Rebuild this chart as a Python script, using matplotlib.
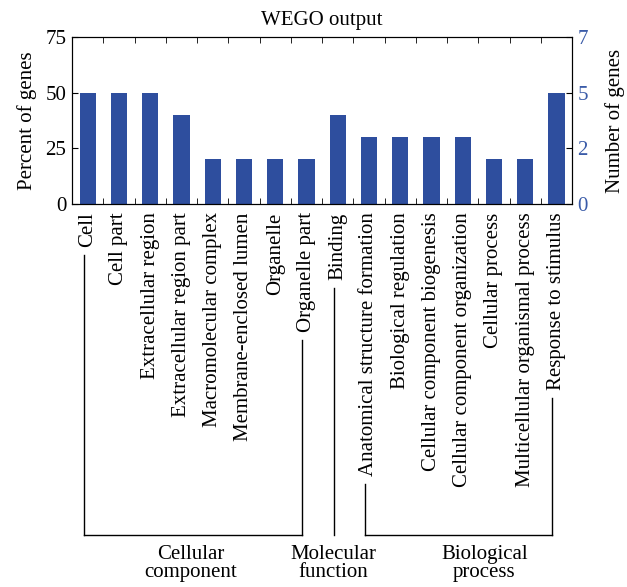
import matplotlib
matplotlib.use("Agg")
import matplotlib.pyplot as plt
from matplotlib.lines import Line2D

# данные с картинки
categories = ["Cell", "Cell part", "Extracellular region", "Extracellular region part",
              "Macromolecular complex", "Membrane-enclosed lumen", "Organelle", "Organelle part",
              "Binding", "Anatomical structure formation", "Biological regulation",
              "Cellular component biogenesis", "Cellular component organization",
              "Cellular process", "Multicellular organismal process", "Response to stimulus"]
percent = [50, 50, 50, 40, 20, 20, 20, 20, 40, 30, 30, 30, 30, 20, 20, 50]
left_ticks = [0, 25, 50, 75]
right_labels = ["0", "2", "5", "7"]
groups = [("Cellular\ncomponent", 0, 7, 3.3),
          ("Molecular\nfunction", 8, 8, 7.85),
          ("Biological\nprocess", 9, 15, 12.7)]

bar_color = "#2E4E9E"
blue_txt = "#3A5BA8"

plt.rcParams['font.family'] = ['Liberation Serif', 'DejaVu Serif']
plt.rcParams['font.size'] = 15

W, H = 627, 587
fig = plt.figure(figsize=(W / 100, H / 100), dpi=100)
ax = fig.add_axes([72 / W, 1 - 204 / H, 500 / W, 167 / H])

x = list(range(len(categories)))
ax.bar(x, percent, width=0.52, color=bar_color)
ax.set_xlim(-0.5, len(categories) - 0.5)
ax.set_ylim(0, 75)
ax.set_yticks(left_ticks)
ax.set_xticks(x)
ax.set_xticklabels(categories, rotation=90, va="top", ha="center")
ax.set_xticks([i + 0.5 for i in x[:-1]], minor=True)
ax.tick_params(axis="x", which="major", length=0, pad=6)
ax.tick_params(axis="x", which="minor", direction="in", top=True, bottom=True, length=4)
ax.tick_params(axis="y", direction="in", length=4, pad=4)
ax.set_ylabel("Percent of genes", labelpad=6)
ax.set_title("WEGO output", fontsize=15, pad=9)

ax2 = ax.twinx()
ax2.set_ylim(0, 75)
ax2.set_yticks(left_ticks)
ax2.set_yticklabels(right_labels, color=blue_txt)
ax2.tick_params(axis="y", direction="in", length=4, pad=4)
ax2.set_ylabel("Number of genes", labelpad=12)

# скобки групп под подписями
fig.canvas.draw()
renderer = fig.canvas.get_renderer()
labels = ax.get_xticklabels()
bracket_y = 52  # пиксели снизу

def xpix(i):
    return ax.transData.transform((i, 0))[0]

def vline(i):
    bb = labels[i].get_window_extent(renderer)
    top = bb.y0 - 8
    xp = xpix(i) - 4
    fig.add_artist(Line2D([xp / W, xp / W], [top / H, bracket_y / H],
                          transform=fig.transFigure, color="black", lw=1))
    return xp

for name, a, b, tx in groups:
    xa = vline(a)
    xb = vline(b) if b != a else xa
    if b != a:
        fig.add_artist(Line2D([xa / W, xb / W], [bracket_y / H, bracket_y / H],
                              transform=fig.transFigure, color="black", lw=1))
    fig.text(xpix(tx) / W, (bracket_y - 10) / H, name, ha="center", va="top",
             fontsize=15, linespacing=0.95)

fig.savefig("out.png", dpi=100)
